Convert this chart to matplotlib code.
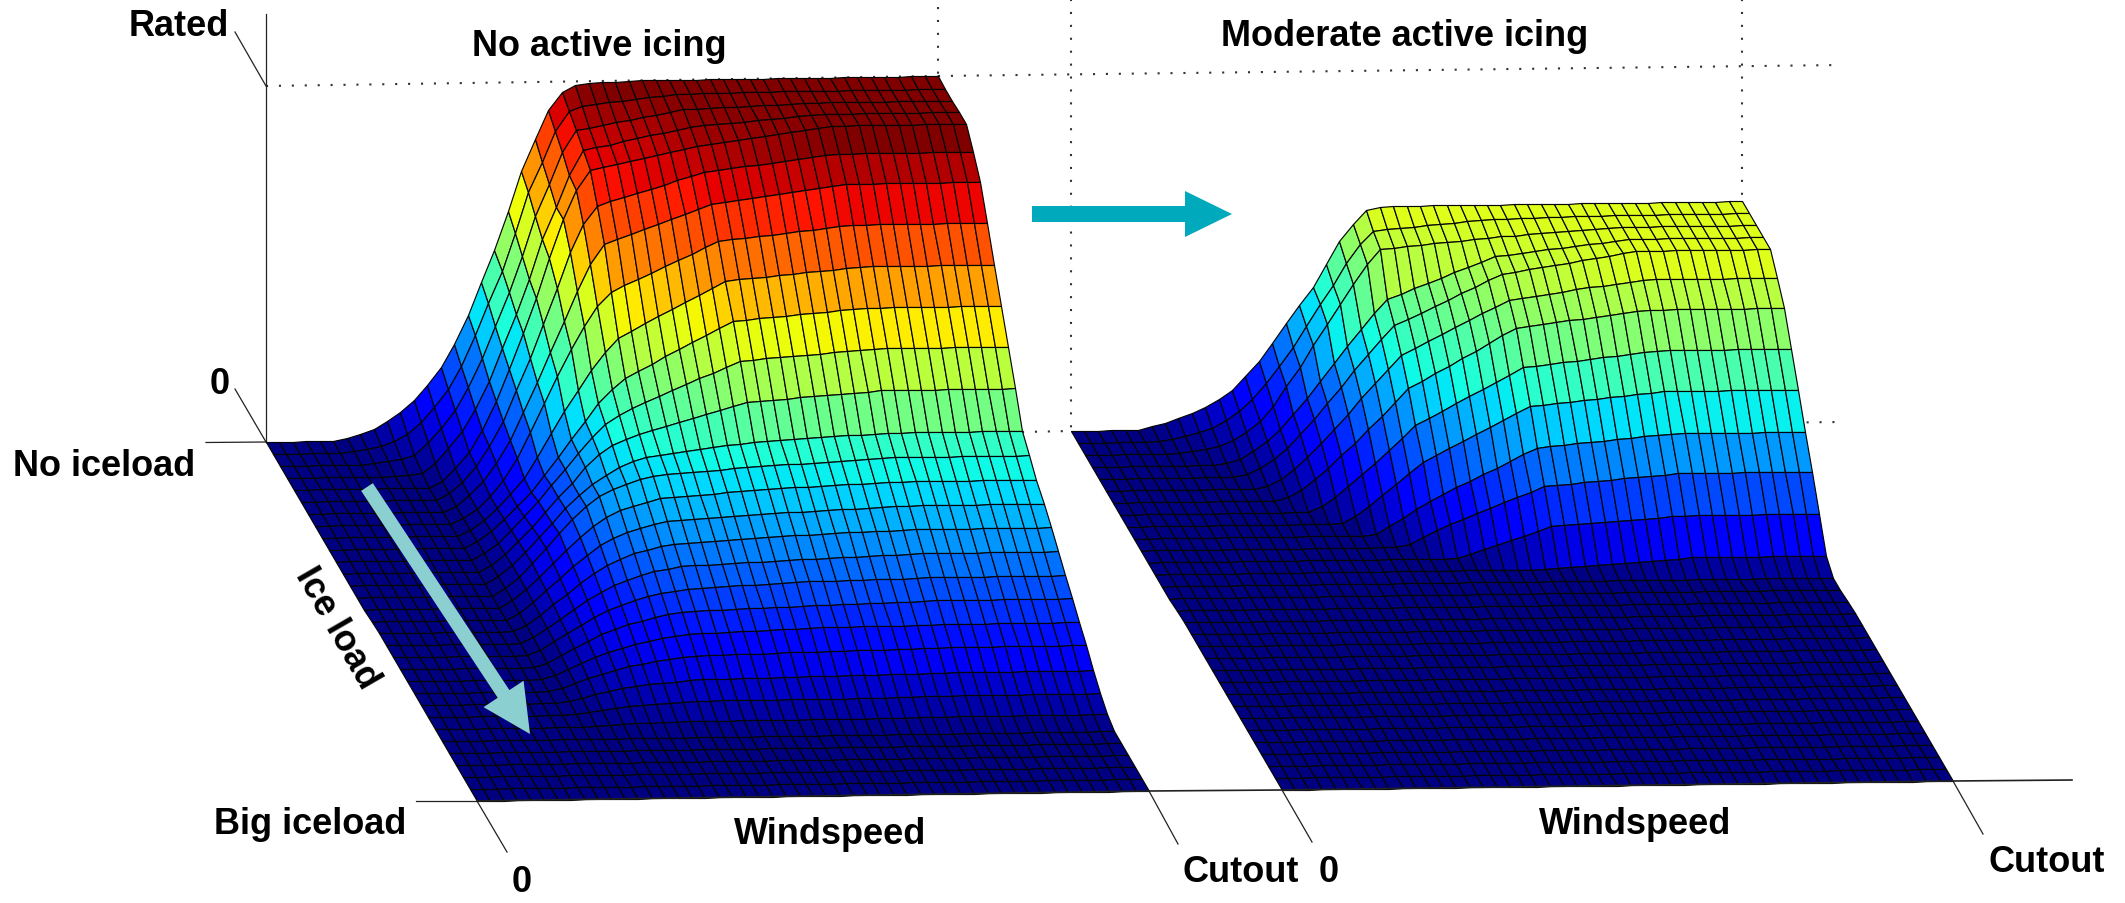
import numpy as np
import matplotlib
matplotlib.use("Agg")
import matplotlib.pyplot as plt

plt.rcParams['font.family'] = ['Liberation Sans', 'DejaVu Sans']

# power in 1/1000 of rated
# one row per ice load step (0 = no ice), columns are wind steps 5..40
# wind steps 0-4 sit at zero and the curve is flat from step 40 up to cutout
no_icing = [
    [0,8,18,32,55,80,112,152,202,268,348,440,530,640,750,840,920,972,990,995,997,998,999,1000,1000,1000,1000,1000,1000,1000,1000,1000,1000,1000,1000,1000],
    [0,4,10,18,32,50,85,125,175,240,325,415,505,610,725,810,895,950,965,970,974,978,982,986,990,995,995,995,996,996,996,996,996,997,997,997],
    [0,0,3,8,15,25,60,100,150,215,295,385,480,580,690,780,870,930,937,944,951,958,964,971,978,985,986,987,989,990,991,993,994,995,997,998],
    [0,0,0,0,3,8,35,78,125,185,265,355,450,550,660,750,840,908,916,923,931,939,947,954,962,970,973,976,979,982,985,988,991,994,997,1000],
    [0,0,0,0,0,0,20,55,100,160,240,330,430,530,640,750,830,885,893,901,909,917,925,933,941,949,954,959,964,969,975,980,985,990,995,1000],
    [0,0,0,0,0,0,18,50,92,148,220,305,395,490,590,690,770,820,831,843,854,865,876,888,899,910,915,919,924,928,933,937,942,946,951,955],
    [0,0,0,0,0,0,16,45,84,135,200,278,360,445,530,615,690,745,759,772,786,799,813,827,840,854,859,864,869,874,879,884,889,894,899,904],
    [0,0,0,0,0,0,15,40,75,120,182,255,335,410,485,550,605,645,662,680,697,714,731,749,766,783,787,791,795,799,803,807,811,815,819,823],
    [0,0,0,0,0,0,16,42,75,115,160,218,285,345,405,460,510,550,569,589,608,627,646,666,685,704,708,711,715,718,722,725,729,732,736,739],
    [0,0,0,0,0,0,17,45,78,115,155,200,250,300,352,400,440,470,490,509,529,548,568,587,607,626,629,632,635,638,642,645,648,651,654,657],
    [0,0,0,0,0,0,18,47,82,120,162,205,250,295,340,375,400,420,436,452,468,484,500,515,531,547,550,553,556,559,562,564,567,570,573,576],
    [0,0,0,0,0,0,19,49,85,124,165,205,245,290,325,350,367,380,391,401,412,423,433,444,454,465,468,470,473,476,479,481,484,487,489,492],
    [0,0,0,0,0,0,20,51,88,128,168,208,245,275,300,322,337,350,355,359,364,369,373,378,382,387,389,391,393,395,397,399,401,403,405,407],
    [0,0,0,0,0,0,20,52,90,130,172,212,248,275,295,308,320,330,333,336,339,342,344,347,350,353,355,357,358,360,362,364,366,367,369,371],
    [0,0,0,0,0,0,20,50,85,122,160,196,226,250,268,280,291,300,303,306,308,311,314,317,319,322,324,325,327,328,330,331,333,334,336,337],
    [0,0,0,0,0,0,19,48,80,113,148,178,204,225,241,252,262,270,272,275,277,279,281,284,286,288,290,291,293,294,296,297,299,300,302,303],
    [0,0,0,0,0,0,18,45,75,104,134,160,182,200,214,224,233,240,242,244,246,249,251,253,255,257,258,260,261,262,264,265,266,267,269,270],
    [0,0,0,0,0,0,17,42,68,94,119,142,160,175,188,197,204,210,212,213,215,217,218,220,221,223,224,226,227,228,230,231,232,233,235,236],
    [0,0,0,0,0,0,15,38,60,83,104,123,138,150,161,169,175,180,182,184,186,188,189,191,193,195,196,196,197,198,198,199,200,200,201,202],
    [0,0,0,0,0,0,13,33,52,72,90,105,117,127,136,143,148,152,153,154,155,157,158,159,160,161,162,163,164,165,166,167,168,169,170,171],
    [0,0,0,0,0,0,11,28,44,60,74,86,96,104,111,116,120,123,124,125,127,128,129,130,132,133,134,134,135,135,136,136,136,137,137,138],
    [0,0,0,0,0,0,9,22,35,47,58,67,74,80,86,90,93,95,96,96,97,97,98,99,99,100,101,101,102,103,103,104,105,105,106,107],
    [0,0,0,0,0,0,6,15,24,32,39,44,49,53,56,59,61,62,62,63,63,63,64,64,65,65,66,66,67,67,67,68,68,69,69,70],
    [0,0,0,0,0,0,3,9,14,19,23,26,28,30,32,33,34,35,35,35,35,35,35,35,35,35,35,36,36,36,37,37,38,38,38,39],
    [0,0,0,0,0,0,1,3,5,7,8,9,10,10,11,11,12,12,12,12,12,12,12,12,12,12,12,12,13,13,13,13,13,14,14,14],
]
moderate_icing = [
    [0,10,20,33,47,63,85,110,148,190,240,295,345,395,460,525,570,610,618,620,620,620,620,620,620,620,620,620,620,620,620,620,620,620,620,620],
    [0,3,8,15,25,38,58,83,118,160,208,262,320,380,435,495,548,585,588,592,595,598,602,605,608,612,613,614,614,615,616,617,618,618,619,620],
    [0,0,2,6,12,20,35,58,90,130,185,240,300,360,415,470,525,567,571,574,578,581,585,588,592,595,598,600,603,605,608,610,613,615,618,620],
    [0,0,0,0,2,6,18,38,65,100,140,185,232,282,330,378,422,460,475,489,504,518,533,547,562,576,580,585,589,594,598,602,607,611,616,620],
    [0,0,0,0,0,0,8,25,48,80,118,160,205,250,295,340,382,420,438,455,473,490,508,525,543,560,566,572,578,584,590,596,602,608,614,620],
    [0,0,0,0,0,0,0,8,28,55,88,125,165,208,250,292,332,370,389,408,427,446,465,484,503,522,527,532,537,542,548,553,558,563,568,573],
    [0,0,0,0,0,0,0,0,10,30,58,90,125,160,198,235,272,310,331,352,373,394,414,435,456,477,482,486,491,495,500,504,509,513,518,522],
    [0,0,0,0,0,0,0,0,0,0,18,42,72,105,137,172,205,240,260,280,300,320,339,359,379,399,403,407,412,416,420,424,428,433,437,441],
    [0,0,0,0,0,0,0,0,0,0,0,3,22,50,80,110,140,170,189,208,227,247,266,285,304,323,327,330,334,338,342,345,349,353,356,360],
    [0,0,0,0,0,0,0,0,0,0,0,0,0,5,25,48,72,95,113,132,150,168,186,204,223,241,244,248,251,255,258,261,265,268,272,275],
    [0,0,0,0,0,0,0,0,0,0,0,0,0,0,0,10,28,48,63,77,92,107,122,137,151,166,169,172,175,178,182,185,188,191,194,197],
    [0,0,0,0,0,0,0,0,0,0,0,0,0,0,0,0,0,0,0,12,25,37,50,62,75,87,90,92,95,97,100,102,105,107,110,112],
    [0,0,0,0,0,0,0,0,0,0,0,0,0,0,0,0,0,0,0,0,0,0,0,0,0,2,5,7,10,13,15,18,20,23,25,28],
]

n_ice = 30
n_wind = 50


def full_table(rows):
    table = np.zeros((n_ice + 1, n_wind + 1))
    for k, r in enumerate(rows):
        table[k] = [0] * 5 + r + [r[-1]] * 10
    return table / 1000.0


def draw_surface(ax, rows, origin, wind_vec, ice_vec, rated_h):
    z = full_table(rows)
    m, k = np.meshgrid(np.arange(n_wind + 1) / n_wind, np.arange(n_ice + 1) / n_ice)
    x = origin[0] + wind_vec[0] * m + ice_vec[0] * k
    y = origin[1] + wind_vec[1] * m + ice_vec[1] * k - rated_h * z
    ax.pcolormesh(x, y, z[:-1, :-1], cmap='jet', vmin=0, vmax=1, shading='flat',
                  edgecolors='#050505', linewidth=0.85, antialiased=True, zorder=3)


fig = plt.figure(figsize=(21.25, 9.04), dpi=100)
ax = fig.add_axes([0, 0, 1, 1])
ax.set_xlim(0, 2125)
ax.set_ylim(904, 0)
ax.axis('off')

draw_surface(ax, no_icing, (266, 443), (672, -10), (211, 359), 356)
draw_surface(ax, moderate_icing, (1071, 432), (671, -9), (211, 359), 356)

# axis lines and ticks
solid = dict(color='#222222', lw=0.9, zorder=2)
ax.plot([266, 266], [15, 443], **solid)
ax.plot([235, 266], [33, 87], **solid)
ax.plot([235, 266], [390, 443], **solid)
ax.plot([206, 266], [443.5, 443], **solid)
ax.plot([416, 477], [802, 802], **solid)
ax.plot([477, 507], [802, 853], **solid)
ax.plot([477, 1149, 1282, 1953, 2072], [802, 792, 791, 782, 781], color='#222222', lw=1.2, zorder=4)
ax.plot([1149, 1178], [792, 845], **solid)
ax.plot([1282, 1312], [791, 843], **solid)
ax.plot([1953, 1983], [782, 835], **solid)

# dotted frame
dots = dict(color='#333333', lw=1.5, linestyle=(0, (1, 5.2)), zorder=1)
ax.plot([266, 938], [87, 77], **dots)
ax.plot([938, 1841], [77, 66], **dots)
ax.plot([938, 938], [8, 77], **dots)
ax.plot([1071, 1071], [0, 432], **dots)
ax.plot([1742, 1742], [0, 202], **dots)
ax.plot([1022, 1071], [433, 432], **dots)
ax.plot([1742, 1841], [424, 423], **dots)

# arrows
ax.arrow(1032, 215, 200, 0, width=16, head_width=46, head_length=47,
         length_includes_head=True, color='#00a9bb', lw=0, zorder=5)
ax.arrow(367, 488, 163, 247, width=14, head_width=48, head_length=48,
         length_includes_head=True, color='#8ccfd0', lw=0, zorder=5)

# labels
labels = [
    ('Rated', 179, 27, 0),
    ('No active icing', 599, 47, 0),
    ('Moderate active icing', 1405, 37, 0),
    ('0', 220, 385, 0),
    ('No iceload', 104, 467, 0),
    ('Ice load', 337, 628, -60),
    ('Big iceload', 310, 825, 0),
    ('Windspeed', 830, 835, 0),
    ('0', 522, 883, 0),
    ('Cutout', 1241, 873, 0),
    ('0', 1329, 873, 0),
    ('Windspeed', 1635, 825, 0),
    ('Cutout', 2047, 863, 0),
]
for txt, x, y, rot in labels:
    ax.text(x, y, txt, ha='center', va='center', rotation=rot, fontsize=26,
            fontweight='bold', color='black', zorder=6)

fig.savefig('out.png', dpi=100)
